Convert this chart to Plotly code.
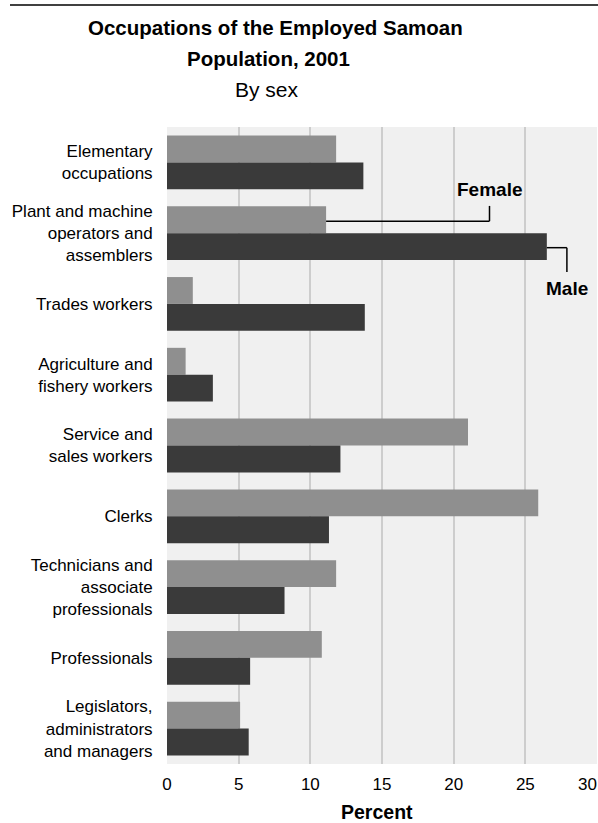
import plotly.graph_objects as go

categories = [
    "Elementary<br>occupations",
    "Plant and machine<br>operators and<br>assemblers",
    "Trades workers",
    "Agriculture and<br>fishery workers",
    "Service and<br>sales workers",
    "Clerks",
    "Technicians and<br>associate<br>professionals",
    "Professionals",
    "Legislators,<br>administrators<br>and managers",
]
female = [11.8, 11.1, 1.8, 1.3, 21.0, 25.9, 11.8, 10.8, 5.1]
male = [13.7, 26.5, 13.8, 3.2, 12.1, 11.3, 8.2, 5.8, 5.7]
x_ticks = [0, 5, 10, 15, 20, 25, 30]

FEMALE_COLOR = "#8f8f8f"
MALE_COLOR = "#3a3a3a"
SANS = "Liberation Sans, Arial, Helvetica, sans-serif"

idx = list(range(len(categories)))

fig = go.Figure()
fig.add_trace(go.Bar(y=idx, x=female, orientation="h", name="Female",
                     marker=dict(color=FEMALE_COLOR, line=dict(width=0))))
fig.add_trace(go.Bar(y=idx, x=male, orientation="h", name="Male",
                     marker=dict(color=MALE_COLOR, line=dict(width=0))))

W, H = 598, 823
L, R, T, B = 167, 1, 127, 59
pw, ph = W - L - R, H - T - B

def px_x(p):
    return (p - L) / pw

def px_y(p):
    return (H - B - p) / ph

fig.update_layout(
    width=W, height=H,
    margin=dict(l=L, r=R, t=T, b=B),
    paper_bgcolor="white",
    plot_bgcolor="#f0f0f0",
    barmode="group",
    bargap=0.24,
    bargroupgap=0,
    showlegend=False,
    font=dict(family=SANS, size=17, color="black"),
    xaxis=dict(
        range=[0, 30], tickvals=x_ticks[:-1], ticktext=[str(v) for v in x_ticks[:-1]],
        showgrid=True, gridcolor="#cdcdcd", gridwidth=1.5,
        zeroline=False, showline=False,
        ticks="outside", ticklen=5, tickcolor="rgba(0,0,0,0)",
        tickfont=dict(family=SANS, size=17),
        fixedrange=True,
    ),
    yaxis=dict(
        range=[len(categories) - 0.5, -0.5],
        tickvals=idx, ticktext=categories,
        showgrid=False, zeroline=False, showline=False,
        ticks="outside", ticklen=10, tickcolor="rgba(0,0,0,0)",
        tickfont=dict(family=SANS, size=17),
        fixedrange=True,
    ),
)

# Last x tick label kept inside the page edge
fig.add_annotation(text=str(x_ticks[-1]), xref="x", yref="paper", x=x_ticks[-1],
                   y=px_y(784), xanchor="right", yanchor="middle", showarrow=False,
                   xshift=2, font=dict(family=SANS, size=17, color="black"))

# Axis title
fig.add_annotation(text="<b>Percent</b>", xref="paper", yref="paper",
                   x=px_x(377), y=px_y(812), xanchor="center", yanchor="middle",
                   showarrow=False, font=dict(family=SANS, size=19.5, color="black"))

# Title block
fig.add_annotation(text="<b>Occupations of the Employed Samoan</b>", xref="paper", yref="paper",
                   x=px_x(275), y=px_y(28), xanchor="center", yanchor="middle",
                   showarrow=False, font=dict(family=SANS, size=20.5, color="black"))
fig.add_annotation(text="<b>Population, 2001</b>", xref="paper", yref="paper",
                   x=px_x(268), y=px_y(58), xanchor="center", yanchor="middle",
                   showarrow=False, font=dict(family=SANS, size=20.5, color="black"))
fig.add_annotation(text="By sex", xref="paper", yref="paper",
                   x=px_x(267), y=px_y(90), xanchor="center", yanchor="middle",
                   showarrow=False, font=dict(family=SANS, size=21, color="black"))

# Top rule
fig.add_shape(type="line", xref="paper", yref="paper",
              x0=px_x(10), x1=px_x(598), y0=px_y(5), y1=px_y(5),
              line=dict(color="black", width=1.5))

# Direct labels for series (on the "Plant and machine..." category)
k = 1
f_y = k - 0.17
m_y = k + 0.205
fig.add_shape(type="line", xref="x", yref="y", x0=female[k], x1=22.5, y0=f_y, y1=f_y,
              line=dict(color="black", width=1.5))
fig.add_shape(type="line", xref="x", yref="y", x0=22.5, x1=22.5, y0=f_y, y1=k - 0.385,
              line=dict(color="black", width=1.5))
fig.add_annotation(text="<b>Female</b>", xref="x", yref="y", x=22.5, y=k - 0.61,
                   showarrow=False, xanchor="center", yanchor="middle",
                   font=dict(family=SANS, size=19, color="black"))
fig.add_shape(type="line", xref="x", yref="y", x0=male[k], x1=27.9, y0=m_y, y1=m_y,
              line=dict(color="black", width=1.5))
fig.add_shape(type="line", xref="x", yref="y", x0=27.9, x1=27.9, y0=m_y, y1=k + 0.55,
              line=dict(color="black", width=1.5))
fig.add_annotation(text="<b>Male</b>", xref="x", yref="y", x=27.9, y=k + 0.775,
                   showarrow=False, xanchor="center", yanchor="middle",
                   font=dict(family=SANS, size=19, color="black"))

fig.write_html(
    "out.html",
    config={"displayModeBar": False},
    post_script="document.body.style.margin='0';document.body.style.overflow='hidden';",
)
